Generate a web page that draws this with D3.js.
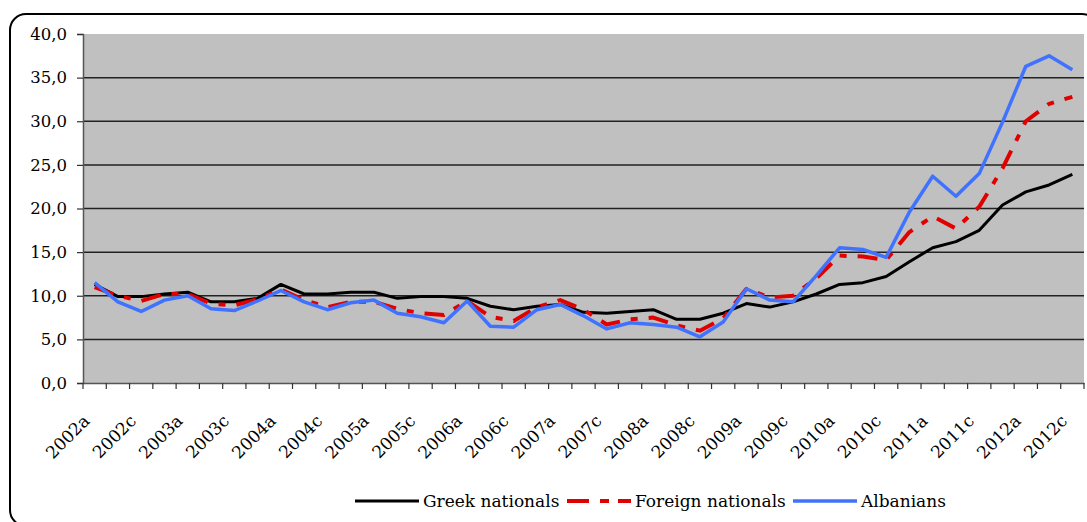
<!DOCTYPE html>
<html>
<head>
<meta charset="utf-8">
<script src="https://cdn.jsdelivr.net/npm/d3@7"></script>
<style>
  body { margin: 0; background: #fff; }
  svg text { font-family: "DejaVu Serif", serif; fill: #000; }
</style>
</head>
<body>
<div id="chart"></div>
<script>
var quarters = [
    "2002a","2002b","2002c","2002d","2003a","2003b","2003c","2003d",
    "2004a","2004b","2004c","2004d","2005a","2005b","2005c","2005d",
    "2006a","2006b","2006c","2006d","2007a","2007b","2007c","2007d",
    "2008a","2008b","2008c","2008d","2009a","2009b","2009c","2009d",
    "2010a","2010b","2010c","2010d","2011a","2011b","2011c","2011d",
    "2012a","2012b","2012c"
];

var greekNationals = [11.3, 9.9, 9.9, 10.2, 10.4, 9.3, 9.3, 9.7, 11.3, 10.2, 10.2, 10.4, 10.4, 9.7, 9.9, 9.9,
    9.7, 8.8, 8.4, 8.8, 9.0, 8.1, 8.0, 8.2, 8.4, 7.3, 7.3, 8.0, 9.1, 8.7, 9.3, 10.2,
    11.3, 11.5, 12.2, 13.9, 15.5, 16.2, 17.5, 20.4, 21.9, 22.7, 23.9];

var foreignNationals = [11.0, 10.0, 9.4, 10.2, 10.2, 9.1, 8.9, 9.6, 10.7, 9.5, 8.7, 9.3, 9.3, 8.5, 8.0, 7.8,
    9.4, 7.6, 7.1, 8.7, 9.5, 8.4, 6.7, 7.3, 7.5, 6.6, 6.0, 7.4, 10.8, 9.8, 10.0, 12.0,
    14.6, 14.5, 14.1, 17.3, 19.1, 17.7, 20.2, 24.6, 30.0, 32.0, 32.8];

var albanians = [11.5, 9.3, 8.2, 9.5, 10.0, 8.5, 8.3, 9.4, 10.6, 9.3, 8.4, 9.2, 9.5, 8.0, 7.6, 6.9,
    9.4, 6.5, 6.4, 8.4, 9.0, 7.7, 6.2, 6.9, 6.7, 6.4, 5.3, 7.0, 10.8, 9.5, 9.3, 12.3,
    15.5, 15.3, 14.4, 19.6, 23.7, 21.4, 24.0, 29.9, 36.3, 37.5, 35.9];

var yTicks = [0, 5, 10, 15, 20, 25, 30, 35, 40];

var series = [
    {name: "Greek nationals", values: greekNationals, color: "#000000", width: 3, dash: null},
    {name: "Foreign nationals", values: foreignNationals, color: "#e00000", width: 4, dash: "20,11,7,11"},
    {name: "Albanians", values: albanians, color: "#3f72ff", width: 3.5, dash: null}
];

var width = 1087, height = 522;
var plot = {left: 83, right: 1084, top: 34, bottom: 383};

var svg = d3.select("#chart").append("svg")
    .attr("width", width)
    .attr("height", height);

// outer rounded frame
svg.append("rect")
    .attr("x", 10).attr("y", 14)
    .attr("width", 1088).attr("height", 512)
    .attr("rx", 16).attr("ry", 16)
    .attr("fill", "none")
    .attr("stroke", "#000")
    .attr("stroke-width", 2);

var x = d3.scaleBand()
    .domain(quarters)
    .range([plot.left, plot.right]);

var y = d3.scaleLinear()
    .domain([0, 40])
    .range([plot.bottom, plot.top]);

svg.append("rect")
    .attr("x", plot.left).attr("y", plot.top)
    .attr("width", plot.right - plot.left)
    .attr("height", plot.bottom - plot.top)
    .attr("fill", "#c0c0c0");

// gridlines
svg.append("g")
    .selectAll("line")
    .data(yTicks.filter(function(d) { return d > 0 && d < 40; }))
    .enter()
    .append("line")
    .attr("x1", plot.left).attr("x2", plot.right)
    .attr("y1", function(d) { return y(d); })
    .attr("y2", function(d) { return y(d); })
    .attr("stroke", "#222")
    .attr("stroke-width", 1.5);

// y axis
var yAxis = svg.append("g")
    .attr("transform", "translate(" + plot.left + ",0)")
    .call(d3.axisLeft(y)
        .tickValues(yTicks)
        .tickSize(6)
        .tickPadding(10)
        .tickFormat(function(d) { return d3.format(".1f")(d).replace(".", ","); }));
yAxis.select(".domain").attr("stroke", "#555").attr("stroke-width", 1.5);
yAxis.selectAll(".tick line").attr("stroke", "#333").attr("stroke-width", 1.2);
yAxis.selectAll("text").style("font-size", "16.5px");

// x axis: labels on every other quarter
var xAxis = svg.append("g")
    .attr("transform", "translate(0," + plot.bottom + ")")
    .call(d3.axisBottom(x)
        .tickValues(quarters.filter(function(d, i) { return i % 2 === 0; }))
        .tickSize(0)
        .tickPadding(0));
xAxis.select(".domain").attr("stroke", "#555").attr("stroke-width", 1.5);
xAxis.selectAll("text")
    .style("font-size", "17px")
    .attr("text-anchor", "end")
    .attr("y", 0)
    .attr("dy", 0)
    .attr("transform", "translate(-4,39) rotate(-45)");

// tick marks sit on the category boundaries
var bounds = quarters.map(function(q) { return x(q); }).concat([plot.right]);
xAxis.append("g")
    .selectAll("line")
    .data(bounds)
    .enter()
    .append("line")
    .attr("x1", function(d) { return d; })
    .attr("x2", function(d) { return d; })
    .attr("y1", 0).attr("y2", 6)
    .attr("stroke", "#333")
    .attr("stroke-width", 1.2);

var line = d3.line()
    .x(function(d, i) { return x(quarters[i]) + x.bandwidth() / 2; })
    .y(function(d) { return y(d); });

svg.append("g")
    .selectAll("path")
    .data(series)
    .enter()
    .append("path")
    .attr("d", function(s) { return line(s.values); })
    .attr("fill", "none")
    .attr("stroke", function(s) { return s.color; })
    .attr("stroke-width", function(s) { return s.width; })
    .attr("stroke-dasharray", function(s) { return s.dash; })
    .attr("stroke-linejoin", "round");

// legend
var legendX = [355, 567, 793];
var legend = svg.append("g");
var item = legend.selectAll("g")
    .data(series)
    .enter()
    .append("g")
    .attr("transform", function(s, i) { return "translate(" + legendX[i] + ",501)"; });

item.append("line")
    .attr("x1", 0).attr("x2", 64)
    .attr("y1", 0).attr("y2", 0)
    .attr("stroke", function(s) { return s.color; })
    .attr("stroke-width", function(s) { return s.width; })
    .attr("stroke-dasharray", function(s) { return s.dash ? "22,11,9,9" : null; });

item.append("text")
    .attr("x", 68)
    .attr("y", 6)
    .style("font-size", "17px")
    .text(function(s) { return s.name; });
</script>
</body>
</html>
